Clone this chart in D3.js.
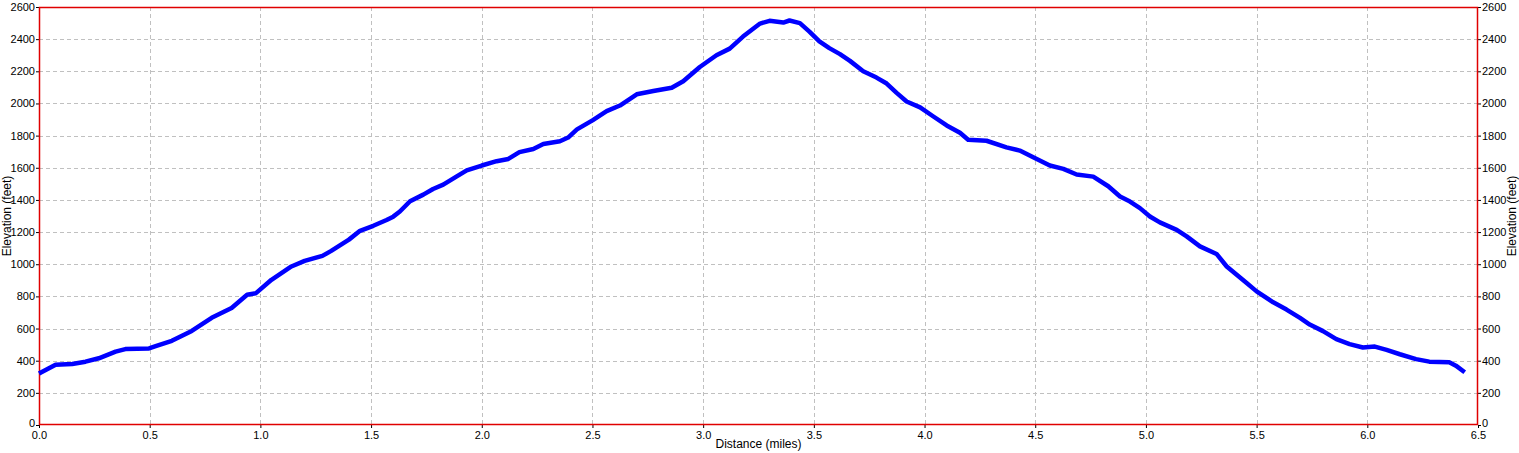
<!DOCTYPE html>
<html><head><meta charset="utf-8">
<script src="https://cdn.jsdelivr.net/npm/d3@7"></script>
<style>body{margin:0;background:#fff}svg{display:block}text{font-family:"Liberation Sans",Arial,sans-serif;fill:#000}</style>
</head><body><svg id="c" width="1519" height="453"></svg>
<script>
const distance = [0.0,0.075,0.15,0.21,0.27,0.346,0.39,0.497,0.527,0.6,0.69,0.78,0.87,0.94,0.98,1.05,1.14,1.2,1.28,1.32,1.4,1.45,1.51,1.57,1.6,1.63,1.676,1.736,1.78,1.826,1.887,1.932,2.0,2.067,2.12,2.17,2.233,2.278,2.353,2.39,2.43,2.5,2.564,2.624,2.7,2.775,2.858,2.91,2.985,3.06,3.12,3.18,3.257,3.30,3.362,3.39,3.437,3.48,3.525,3.57,3.618,3.663,3.723,3.783,3.829,3.874,3.919,3.98,4.04,4.1,4.16,4.197,4.28,4.37,4.43,4.5,4.566,4.627,4.687,4.762,4.83,4.883,4.928,4.973,5.018,5.063,5.139,5.184,5.244,5.319,5.365,5.41,5.455,5.5,5.575,5.635,5.696,5.74,5.8,5.86,5.92,5.98,6.034,6.087,6.147,6.22,6.28,6.37,6.4,6.44];
const elevation = [320,375,380,394,415,456,472,476,490,524,585,667,728,810,820,903,986,1021,1052,1083,1153,1208,1239,1275,1296,1328,1392,1433,1468,1495,1547,1584,1614,1641,1655,1697,1717,1748,1765,1788,1839,1895,1952,1987,2057,2077,2098,2138,2227,2300,2341,2416,2497,2514,2503,2516,2500,2447,2386,2344,2307,2265,2200,2161,2124,2066,2012,1976,1919,1863,1818,1774,1768,1727,1707,1659,1614,1593,1558,1545,1485,1421,1390,1349,1297,1260,1214,1173,1111,1064,986,934,883,831,763,718,666,625,584,534,503,482,488,467,440,410,394,390,369,328];
const xTicks = [0,0.5,1,1.5,2,2.5,3,3.5,4,4.5,5,5.5,6,6.5];
const yTicks = [0,200,400,600,800,1000,1200,1400,1600,1800,2000,2200,2400,2600];

const L=39, R=1478, T=7, B=425;
const svg=d3.select("#c");
const x=d3.scaleLinear().domain([0,6.5]).range([L,R]);
const y=d3.scaleLinear().domain([0,2600]).range([B,T]);

// grid
const g=svg.append("g");
g.selectAll("line.v").data(xTicks.slice(1,-1)).join("line")
 .attr("x1",d=>Math.round(x(d))+0.5).attr("x2",d=>Math.round(x(d))+0.5).attr("y1",T).attr("y2",B)
 .attr("stroke","#c0c0c0").attr("stroke-dasharray","4,3");
g.selectAll("line.h").data(yTicks.slice(1,-1)).join("line")
 .attr("y1",d=>Math.round(y(d))+0.5).attr("y2",d=>Math.round(y(d))+0.5).attr("x1",L).attr("x2",R)
 .attr("stroke","#c0c0c0").attr("stroke-dasharray","4,3");

// axes
const fmtX=d3.format(".1f"), fmtY=d3.format("d");
const ax=svg.append("g").attr("transform",`translate(0,${B})`)
 .call(d3.axisBottom(x).tickValues(xTicks).tickFormat(fmtX).tickSizeInner(3).tickSizeOuter(0).tickPadding(3));
const ayL=svg.append("g").attr("transform",`translate(${L},0)`)
 .call(d3.axisLeft(y).tickValues(yTicks).tickFormat(fmtY).tickSizeInner(3).tickSizeOuter(0).tickPadding(1));
const ayR=svg.append("g").attr("transform",`translate(${R},0)`)
 .call(d3.axisRight(y).tickValues(yTicks).tickFormat(fmtY).tickSizeInner(3).tickSizeOuter(0).tickPadding(1));
[ax,ayL,ayR].forEach(a=>{
  a.selectAll("text").style("font-size","11px").style("font-family","Liberation Sans, Arial, sans-serif");
  a.selectAll(".tick line").attr("stroke","#000");
  a.select(".domain").attr("stroke","none");
});
ayL.selectAll(".tick text").filter(d=>d===0).attr("dy","0.1em");
ayR.selectAll(".tick text").filter(d=>d===0).attr("dy","0.1em");

// frame
svg.append("rect").attr("x",L+0.5).attr("y",T+0.5).attr("width",R-L-1).attr("height",B-T-1)
 .attr("fill","none").attr("stroke","#e00000").attr("stroke-width",1.5);

// line
svg.append("path").datum(distance.map((d,i)=>[d,elevation[i]]))
 .attr("fill","none").attr("stroke","#0000ff").attr("stroke-width",4.5).attr("stroke-linejoin","round")
 .attr("d",d3.line().x(d=>x(d[0])).y(d=>y(d[1])));

// titles
svg.append("text").attr("x",(L+R)/2).attr("y",448).attr("text-anchor","middle").style("font-size","12px").text("Distance (miles)");
svg.append("text").attr("transform",`translate(11,${(T+B)/2}) rotate(-90)`).attr("text-anchor","middle").style("font-size","12px").text("Elevation (feet)");
svg.append("text").attr("transform",`translate(1516,${(T+B)/2}) rotate(-90)`).attr("text-anchor","middle").style("font-size","12px").text("Elevation (feet)");
</script></body></html>
